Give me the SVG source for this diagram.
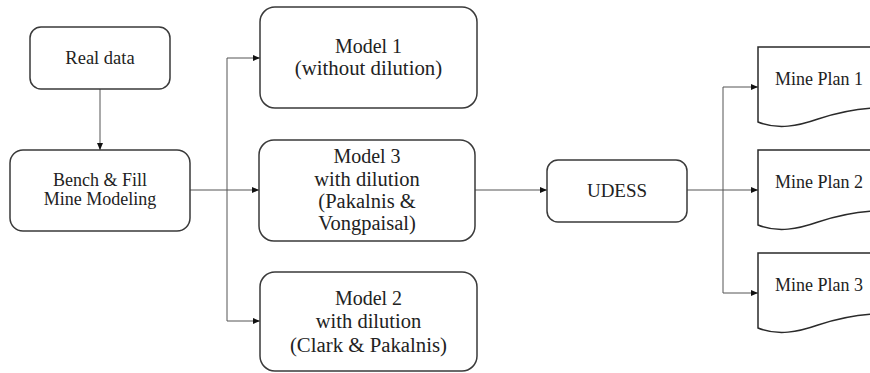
<svg xmlns="http://www.w3.org/2000/svg" width="870" height="373" viewBox="0 0 870 373">
<style>
.box{fill:#fff;stroke:#3a3a3a;stroke-width:1.5}
.doc{fill:#fff;stroke:#2a2a2a;stroke-width:1.5}
.c{fill:none;stroke:#555;stroke-width:1}
</style>
<defs>
<marker id="ah" markerUnits="userSpaceOnUse" markerWidth="8" markerHeight="8" viewBox="0 0 8 8" refX="7" refY="4" orient="auto">
<path d="M0,1 L7,4 L0,7 Z" fill="#111"/>
</marker>
</defs>
<rect width="870" height="373" fill="#fff"/>
<g id="connectors">
<line class="c" x1="100" y1="89" x2="100" y2="150" marker-end="url(#ah)"/>
<line class="c" x1="190" y1="190" x2="227" y2="190"/>
<line class="c" x1="227" y1="58" x2="227" y2="321"/>
<line class="c" x1="227" y1="58" x2="260" y2="58" marker-end="url(#ah)"/>
<line class="c" x1="227" y1="190" x2="259" y2="190" marker-end="url(#ah)"/>
<line class="c" x1="227" y1="321" x2="260" y2="321" marker-end="url(#ah)"/>
<line class="c" x1="475" y1="190" x2="547" y2="190" marker-end="url(#ah)"/>
<line class="c" x1="687" y1="190" x2="723" y2="190"/>
<line class="c" x1="723" y1="87" x2="723" y2="293"/>
<line class="c" x1="723" y1="87" x2="758" y2="87" marker-end="url(#ah)"/>
<line class="c" x1="723" y1="190" x2="758" y2="190" marker-end="url(#ah)"/>
<line class="c" x1="723" y1="293" x2="758" y2="293" marker-end="url(#ah)"/>
</g>
<g id="real-data">
<rect class="box" x="30" y="27" width="140" height="62" rx="11"/>
<text x="100" y="64" font-family="Liberation Serif" font-size="18.5" fill="#222" text-anchor="middle">Real data</text>
</g>
<g id="bench-fill">
<rect class="box" x="10" y="150" width="180" height="81" rx="13"/>
<text x="100" y="186" font-family="Liberation Serif" font-size="18" fill="#222" text-anchor="middle">Bench &amp; Fill</text>
<text x="100" y="205" font-family="Liberation Serif" font-size="18" fill="#222" text-anchor="middle">Mine Modeling</text>
</g>
<g id="model1">
<rect class="box" x="260" y="7" width="217" height="101" rx="15"/>
<text x="368.5" y="53" font-family="Liberation Serif" font-size="20" fill="#222" text-anchor="middle">Model 1</text>
<text x="368.5" y="75" font-family="Liberation Serif" font-size="20.8" fill="#222" text-anchor="middle">(without dilution)</text>
</g>
<g id="model3">
<rect class="box" x="259" y="140" width="216" height="101" rx="15"/>
<text x="367" y="163" font-family="Liberation Serif" font-size="20" fill="#222" text-anchor="middle">Model 3</text>
<text x="367" y="186" font-family="Liberation Serif" font-size="20.5" fill="#222" text-anchor="middle">with dilution</text>
<text x="367" y="208" font-family="Liberation Serif" font-size="20.5" fill="#222" text-anchor="middle">(Pakalnis &amp;</text>
<text x="367" y="230" font-family="Liberation Serif" font-size="20.5" fill="#222" text-anchor="middle">Vongpaisal)</text>
</g>
<g id="model2">
<rect class="box" x="260" y="272" width="217" height="99" rx="15"/>
<text x="368.5" y="305" font-family="Liberation Serif" font-size="20" fill="#222" text-anchor="middle">Model 2</text>
<text x="368.5" y="328" font-family="Liberation Serif" font-size="20.5" fill="#222" text-anchor="middle">with dilution</text>
<text x="368.5" y="352" font-family="Liberation Serif" font-size="20.8" fill="#222" text-anchor="middle">(Clark &amp; Pakalnis)</text>
</g>
<g id="udess">
<rect class="box" x="547" y="160" width="140" height="62" rx="11"/>
<text x="617" y="197" font-family="Liberation Serif" font-size="19" fill="#222" text-anchor="middle">UDESS</text>
</g>
<g id="mine-plan-1">
<path class="doc" d="M880,47 H758 V122 C778,130 798,126 818,119 C840,112 860,108 880,108"/>
<text x="775" y="85" font-family="Liberation Serif" font-size="18" fill="#222">Mine Plan 1</text>
</g>
<g id="mine-plan-2">
<path class="doc" d="M880,150 H758 V225 C778,233 798,229 818,222 C840,215 860,211 880,211"/>
<text x="775" y="188" font-family="Liberation Serif" font-size="18" fill="#222">Mine Plan 2</text>
</g>
<g id="mine-plan-3">
<path class="doc" d="M880,253 H758 V328 C778,336 798,332 818,325 C840,318 860,314 880,314"/>
<text x="775" y="291" font-family="Liberation Serif" font-size="18" fill="#222">Mine Plan 3</text>
</g>
</svg>
